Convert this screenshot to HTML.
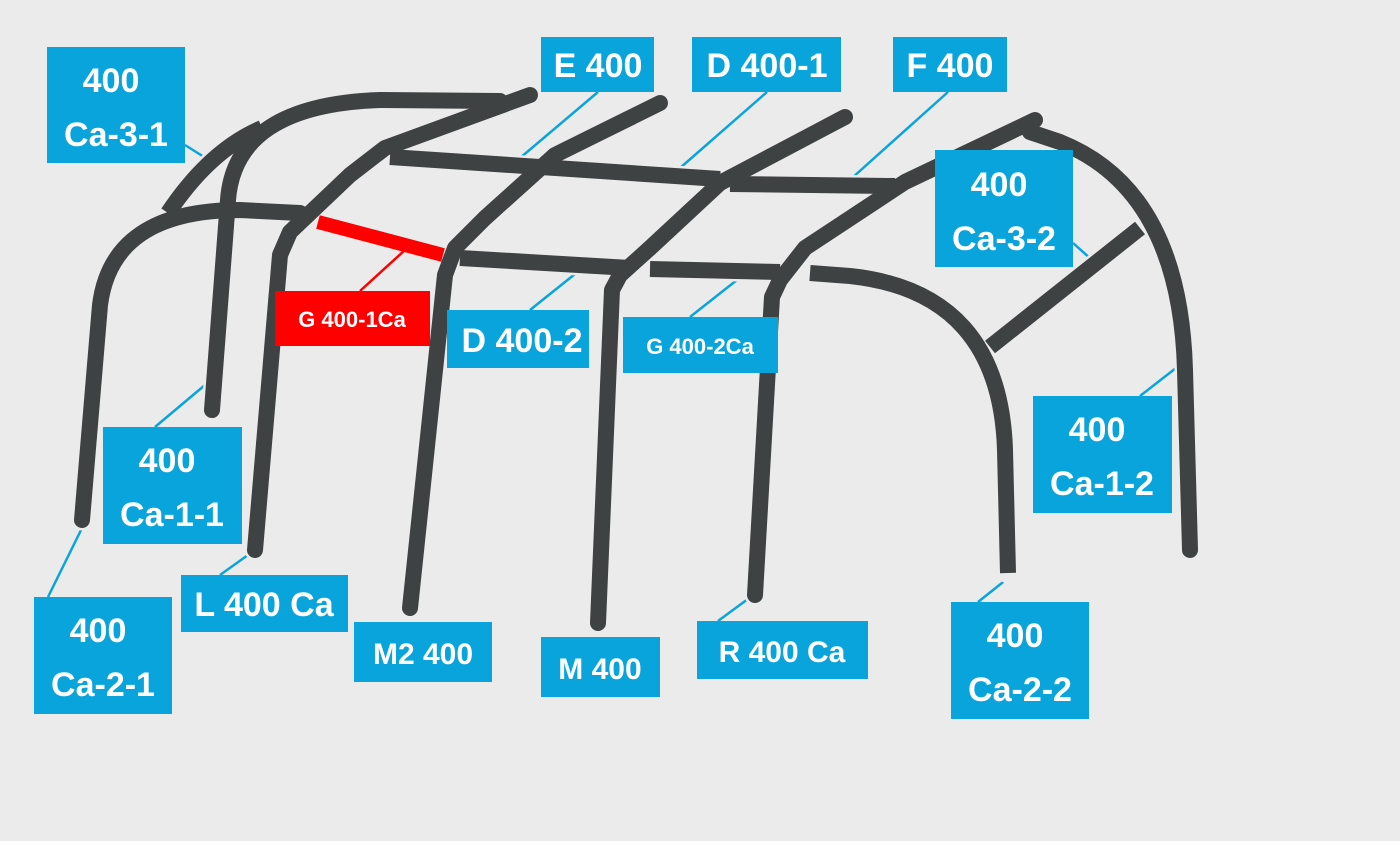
<!DOCTYPE html>
<html><head><meta charset="utf-8"><style>
html,body{margin:0;padding:0;background:#ebebeb}
svg{display:block}
text{font-family:"Liberation Sans",sans-serif;font-weight:bold;fill:#fff}
</style></head><body>
<svg width="1400" height="841" viewBox="0 0 1400 841" xmlns="http://www.w3.org/2000/svg">
<rect width="1400" height="841" fill="#ebebeb"/>
<g stroke="#0aa4dc" stroke-width="2.5" fill="none">
<line x1="185" y1="145" x2="212" y2="162"/>
<line x1="598" y1="92" x2="520" y2="158"/>
<line x1="767" y1="92" x2="680" y2="168"/>
<line x1="948" y1="92" x2="852" y2="178"/>
<line x1="1073" y1="243" x2="1092" y2="260"/>
<line x1="530" y1="310" x2="580" y2="270"/>
<line x1="690" y1="317" x2="742" y2="276"/>
<line x1="155" y1="427" x2="205" y2="385"/>
<line x1="1140" y1="396" x2="1176" y2="368"/>
<line x1="48" y1="597" x2="84" y2="524"/>
<line x1="220" y1="575" x2="255" y2="550"/>
<line x1="718" y1="621" x2="752" y2="596"/>
<line x1="978" y1="602" x2="1012" y2="575"/>
</g>
<line x1="360" y1="291" x2="405" y2="250" stroke="#f00" stroke-width="2.5"/>
<g fill="none" stroke-linecap="round" stroke-linejoin="round">
<g stroke="#ebebeb" stroke-width="21">
<path d="M168,213 Q210,150 262,128"/>
<path d="M212,410 L228,200 Q235,105 380,100 L500,101"/>
<path d="M82,520 L100,305 Q112,210 240,210 L300,213"/>
<path d="M390,157 L720,179"/><path d="M730,184 L895,186"/>
<path d="M255,550 L280,255 L290,232 L350,175 L385,148 L530,95"/>
<path d="M460,258 L630,268"/><path d="M650,269 L780,272"/>
<path d="M410,608 L445,275 L455,248 L485,218 L555,155 L660,103"/>
<path d="M598,623 L612,290 L620,275 L650,248 L720,183 L845,117"/>
<path d="M810,273 L850,276 Q1000,292 1005,450 L1008,573"/>
<path d="M755,595 L772,297 L780,280 L805,248 L905,182 L1035,120"/>
<path d="M1030,132 L1060,142 Q1180,190 1185,370 L1190,550"/>
<path d="M990,347 L1140,228"/>
</g>
</g>
<g fill="none" stroke="#3f4242" stroke-width="16" stroke-linejoin="round">
<path d="M168,213 Q210,150 262,128" stroke-linecap="butt"/>
<path d="M212,410 L228,200 Q235,105 380,100 L500,101" stroke-linecap="round"/>
<path d="M82,520 L100,305 Q112,210 240,210 L300,213" stroke-linecap="round"/>
<path d="M390,157 L720,179"/><path d="M730,184 L895,186"/>
<path d="M255,550 L280,255 L290,232 L350,175 L385,148 L530,95" stroke-linecap="round"/>
<path d="M460,258 L630,268"/><path d="M650,269 L780,272"/>
<path d="M410,608 L445,275 L455,248 L485,218 L555,155 L660,103" stroke-linecap="round"/>
<path d="M598,623 L612,290 L620,275 L650,248 L720,183 L845,117" stroke-linecap="round"/>
<path d="M810,273 L850,276 Q1000,292 1005,450 L1008,573"/>
<path d="M755,595 L772,297 L780,280 L805,248 L905,182 L1035,120" stroke-linecap="round"/>
<path d="M1030,132 L1060,142 Q1180,190 1185,370 L1190,550" stroke-linecap="round"/>
<path d="M990,347 L1140,228"/>
</g>
<line x1="318" y1="222" x2="443" y2="255" stroke="#f00" stroke-width="14"/>
<g fill="#0aa4dc">
<rect x="47" y="47" width="138" height="116"/>
<rect x="541" y="37" width="113" height="55"/>
<rect x="692" y="37" width="149" height="55"/>
<rect x="893" y="37" width="114" height="55"/>
<rect x="935" y="150" width="138" height="117"/>
<rect x="447" y="310" width="142" height="58"/>
<rect x="623" y="317" width="155" height="56"/>
<rect x="103" y="427" width="139" height="117"/>
<rect x="1033" y="396" width="139" height="117"/>
<rect x="34" y="597" width="138" height="117"/>
<rect x="181" y="575" width="167" height="57"/>
<rect x="354" y="622" width="138" height="60"/>
<rect x="541" y="637" width="119" height="60"/>
<rect x="697" y="621" width="171" height="58"/>
<rect x="951" y="602" width="138" height="117"/>
</g>
<rect x="275" y="291" width="155" height="55" fill="#f00"/>
<g font-size="34" text-anchor="middle">
<text x="111" y="92">400</text><text x="116" y="146">Ca-3-1</text>
<text x="598" y="77">E 400</text>
<text x="767" y="77">D 400-1</text>
<text x="950" y="77">F 400</text>
<text x="999" y="196">400</text><text x="1004" y="250">Ca-3-2</text>
<text x="522" y="352">D 400-2</text>
<text x="167" y="472">400</text><text x="172" y="526">Ca-1-1</text>
<text x="1097" y="441">400</text><text x="1102" y="495">Ca-1-2</text>
<text x="98" y="642">400</text><text x="103" y="696">Ca-2-1</text>
<text x="264" y="616">L 400 Ca</text>
<text x="1015" y="647">400</text><text x="1020" y="701">Ca-2-2</text>
</g>
<g font-size="30" text-anchor="middle">
<text x="423" y="664">M2 400</text>
<text x="600" y="679">M 400</text>
<text x="782" y="662">R 400 Ca</text>
</g>
<g font-size="22" text-anchor="middle">
<text x="352" y="327">G 400-1Ca</text>
<text x="700" y="354">G 400-2Ca</text>
</g>
</svg>
</body></html>
